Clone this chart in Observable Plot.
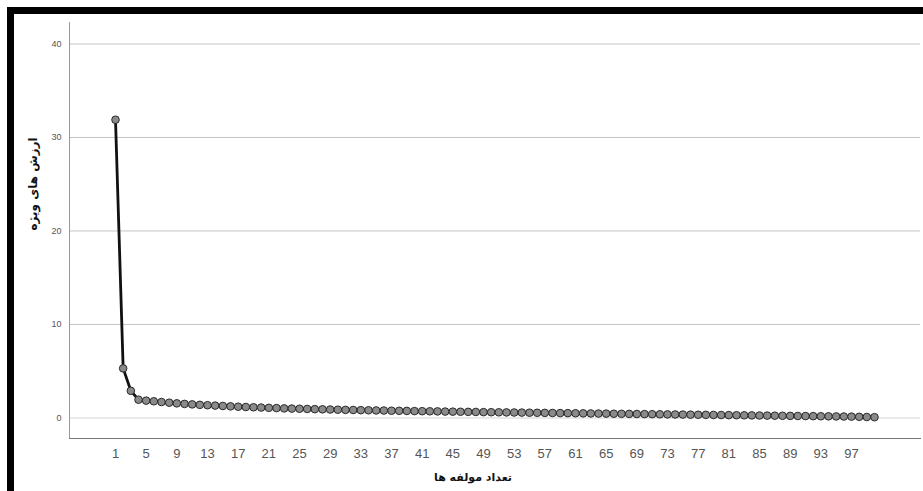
<!DOCTYPE html>
<html>
<head>
<meta charset="utf-8">
<script src="https://cdn.jsdelivr.net/npm/d3@7"></script>
<script src="https://cdn.jsdelivr.net/npm/@observablehq/plot@0.6"></script>
<style>
  html, body { margin: 0; padding: 0; background: #fff; }
  #wrap { position: relative; width: 923px; height: 491px; overflow: hidden; }
  #bl { position: absolute; left: 7px; top: 7px; width: 7px; height: 484px; background: #000; }
  #bt { position: absolute; left: 7px; top: 7px; width: 916px; height: 7px; background: #000; }
  #chart { position: absolute; left: 0; top: 0; }
</style>
</head>
<body>
<div id="wrap">
  <div id="chart"></div>
  <div id="bl"></div>
  <div id="bt"></div>
</div>
<script>
const components = d3.range(1, 101);
const eigenvalues = [
  31.9, 5.3, 2.9, 1.95, 1.85, 1.78, 1.7, 1.63, 1.56, 1.5,
  1.45, 1.4, 1.36, 1.32, 1.28, 1.24, 1.2, 1.17, 1.14, 1.11,
  1.08, 1.05, 1.02, 1.0, 0.98, 0.96, 0.94, 0.92, 0.9, 0.88,
  0.86, 0.85, 0.83, 0.82, 0.8, 0.79, 0.77, 0.76, 0.75, 0.73,
  0.72, 0.71, 0.7, 0.68, 0.67, 0.66, 0.65, 0.64, 0.62, 0.61,
  0.6, 0.59, 0.58, 0.57, 0.56, 0.55, 0.54, 0.53, 0.52, 0.51,
  0.5, 0.49, 0.48, 0.47, 0.46, 0.45, 0.44, 0.43, 0.42, 0.41,
  0.4, 0.39, 0.38, 0.37, 0.36, 0.35, 0.34, 0.33, 0.32, 0.31,
  0.3, 0.29, 0.28, 0.27, 0.26, 0.25, 0.24, 0.23, 0.22, 0.21,
  0.2, 0.19, 0.18, 0.17, 0.16, 0.15, 0.14, 0.12, 0.1, 0.08
];
const xTicks = d3.range(1, 98, 4);
const yTicks = [0, 10, 20, 30, 40];
const xLabel = "تعداد مولفه ها";
const yLabel = "ارزش های ویژه";

const data = components.map((c, i) => ({c, v: eigenvalues[i]}));

const chart = Plot.plot({
  width: 923,
  height: 491,
  marginLeft: 69,
  marginRight: 3,
  marginTop: 22,
  marginBottom: 53,
  style: {fontFamily: "Liberation Sans, Arial, sans-serif", background: "transparent"},
  x: {domain: [-5, 106], axis: null},
  y: {domain: [-2.2, 42.3], axis: null},
  marks: [
    Plot.ruleY(yTicks.filter(d => d > 0), {stroke: "#c4c4c4", strokeWidth: 1}),
    Plot.ruleY([0], {stroke: "#e2e2e2", strokeWidth: 1.5}),
    Plot.axisY({ticks: yTicks, tickSize: 0, tickPadding: 8, fontSize: 9, color: "#555", label: null}),
    Plot.axisX({ticks: xTicks, tickSize: 0, tickPadding: 10, fontSize: 13, color: "#555", label: null}),
    Plot.frame({anchor: "left", stroke: "#999"}),
    Plot.frame({anchor: "bottom", stroke: "#777"}),
    Plot.line(data, {x: "c", y: "v", stroke: "#111", strokeWidth: 2.8}),
    Plot.dot(data, {x: "c", y: "v", r: 3.8, fill: "#8a8a8a", stroke: "#2a2a2a", strokeWidth: 1}),
    Plot.text([yLabel], {frameAnchor: "left", dx: -36, rotate: -90, fontSize: 12, fontWeight: "bold", fill: "#111", fontFamily: "DejaVu Sans, sans-serif"}),
    Plot.text([xLabel], {frameAnchor: "bottom", dy: 42, dx: -22, fontSize: 11, fontWeight: "bold", fill: "#111", fontFamily: "DejaVu Sans, sans-serif"})
  ]
});
document.getElementById("chart").appendChild(chart);
</script>
</body>
</html>
